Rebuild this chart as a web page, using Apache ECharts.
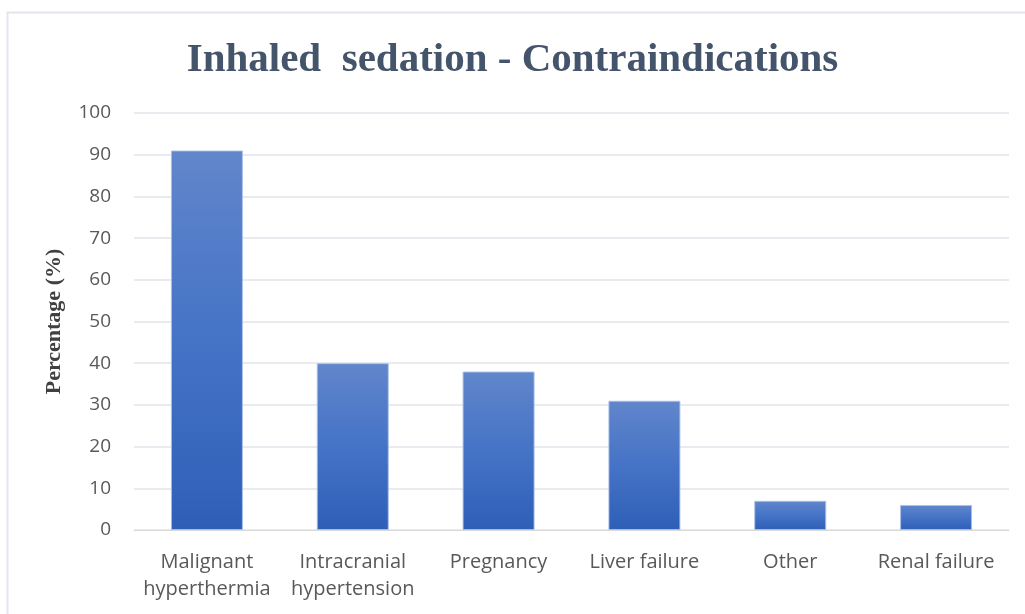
<!DOCTYPE html>
<html>
<head>
<meta charset="utf-8">
<script src="https://cdn.jsdelivr.net/npm/echarts@6/dist/echarts.min.js"></script>
<style>
html,body{margin:0;padding:0;background:#fff;}
#chart{width:1025px;height:614px;}
</style>
</head>
<body>
<div id="chart"></div>
<script>
var categories = ['Malignant\nhyperthermia', 'Intracranial\nhypertension', 'Pregnancy', 'Liver failure', 'Other', 'Renal failure'];
var values = [91, 40, 38, 31, 7, 6];
var titleText = 'Inhaled  sedation - Contraindications';
var yAxisName = 'Percentage (%)';

var chart = echarts.init(document.getElementById('chart'));
chart.setOption({
  backgroundColor: '#ffffff',
  animation: false,
  graphic: [{
    type: 'rect',
    left: 5, top: 10,
    shape: { width: 1100, height: 700 },
    style: { fill: 'none', stroke: '#e2e5eb', lineWidth: 2 },
    silent: true
  }],
  title: {
    text: titleText,
    left: 'center',
    top: 35,
    textStyle: {
      fontFamily: 'Liberation Serif',
      fontWeight: 'bold',
      fontSize: 41,
      color: '#44546a'
    }
  },
  grid: { left: 134, right: 16, top: 113, bottom: 84, containLabel: false },
  xAxis: {
    type: 'category',
    data: categories,
    axisTick: { show: false },
    axisLine: { show: true, lineStyle: { color: '#d9d9d9', width: 1 } },
    axisLabel: {
      color: '#595959',
      fontFamily: 'Open Sans',
      fontSize: 20,
      lineHeight: 27,
      margin: 19,
      interval: 0
    }
  },
  yAxis: {
    type: 'value',
    min: 0, max: 100, interval: 10,
    name: yAxisName,
    nameLocation: 'middle',
    nameGap: 69,
    nameTextStyle: {
      fontFamily: 'Liberation Serif',
      fontWeight: 'bold',
      fontSize: 22,
      color: '#404040'
    },
    axisLine: { show: false },
    axisTick: { show: false },
    axisLabel: {
      color: '#595959',
      fontFamily: 'Open Sans',
      fontSize: 19,
      margin: 23
    },
    splitLine: { lineStyle: { color: '#e1e4ea', width: 1.5 } }
  },
  series: [{
    type: 'bar',
    data: values,
    barWidth: 72,
    itemStyle: {
      color: new echarts.graphic.LinearGradient(0, 0, 0, 1, [
        { offset: 0, color: '#6186cb' },
        { offset: 0.5, color: '#4573c6' },
        { offset: 1, color: '#2e5fb7' }
      ]),
      borderColor: 'rgba(170,192,232,0.9)',
      borderWidth: 1
    }
  }]
});
</script>
</body>
</html>
